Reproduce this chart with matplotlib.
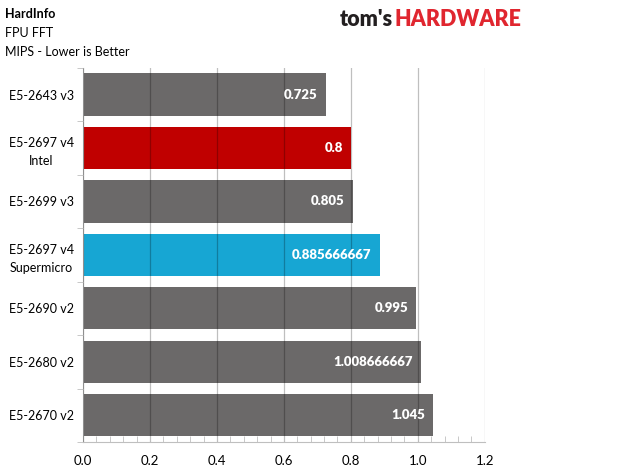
import matplotlib.pyplot as plt
import numpy as np
from matplotlib.ticker import MultipleLocator, FixedLocator, NullFormatter

plt.rcParams["font.family"] = ["Lato", "DejaVu Sans"]

cpus = [
    "E5-2643 v3",
    "E5-2697 v4\nIntel",
    "E5-2699 v3",
    "E5-2697 v4\nSupermicro",
    "E5-2690 v2",
    "E5-2680 v2",
    "E5-2670 v2",
]
scores = [0.725, 0.8, 0.805, 0.885666667, 0.995, 1.008666667, 1.045]
score_labels = ["0.725", "0.8", "0.805", "0.885666667", "0.995", "1.008666667", "1.045"]
bar_colors = ["#6b6969", "#c00000", "#6b6969", "#17a6d3", "#6b6969", "#6b6969", "#6b6969"]
x_ticks = [0.0, 0.2, 0.4, 0.6, 0.8, 1.0, 1.2]

fig = plt.figure(figsize=(6.33, 4.74), dpi=100)
ax = fig.add_axes([0.131, 0.0675, 0.635, 0.7895])

y = np.arange(len(cpus))
ax.barh(y, scores, height=0.79, color=bar_colors, zorder=1)

ax.set_xlim(0, 1.2)
ax.set_ylim(len(cpus) - 0.5, -0.5)
ax.set_xticks(x_ticks)
ax.set_xticklabels([f"{t:.1f}" for t in x_ticks], fontsize=9.5)
ax.xaxis.set_minor_locator(MultipleLocator(0.04))
ax.tick_params(axis="x", which="major", length=0, pad=9)
ax.tick_params(axis="x", which="minor", direction="in", length=4, color="#bfbfbf")
ax.grid(axis="x", which="major", color="black", alpha=0.25, linewidth=0.9, zorder=3)
ax.set_axisbelow(False)

ax.set_yticks(y)
ax.set_yticklabels(cpus, fontsize=9, ha="center", multialignment="center",
                   linespacing=1.6)
ax.tick_params(axis="y", which="major", length=0, pad=30)
ax.yaxis.set_minor_locator(FixedLocator(np.arange(-0.5, len(cpus), 1)))
ax.yaxis.set_minor_formatter(NullFormatter())
ax.tick_params(axis="y", which="minor", length=4, color="#bfbfbf")

for side in ["top", "right"]:
    ax.spines[side].set_visible(False)
for side in ["left", "bottom"]:
    ax.spines[side].set_color("#bfbfbf")

for yi, val, lab in zip(y, scores, score_labels):
    ax.text(val - 0.024, yi, lab, ha="right", va="center",
            color="white", fontsize=9.5, fontweight="heavy", zorder=4)

fig.text(0.008, 0.97, "HardInfo", fontsize=9, fontweight="bold", va="center")
fig.text(0.008, 0.93, "FPU FFT", fontsize=9, va="center")
fig.text(0.008, 0.89, "MIPS - Lower is Better", fontsize=9, va="center")

# logo: "tom's" followed directly by "HARDWARE"
logo = fig.text(0.537, 0.958, "tom's", fontsize=15.5, fontweight="heavy",
                color="#231f20", va="center", ha="left")
fig.canvas.draw()
bb = logo.get_window_extent().transformed(fig.transFigure.inverted())
fig.text(bb.x1 + 0.002, 0.958, "HARDWARE", fontsize=15.5, fontweight="heavy",
         color="#e0262f", va="center", ha="left")

fig.savefig("out.png", dpi=100)
